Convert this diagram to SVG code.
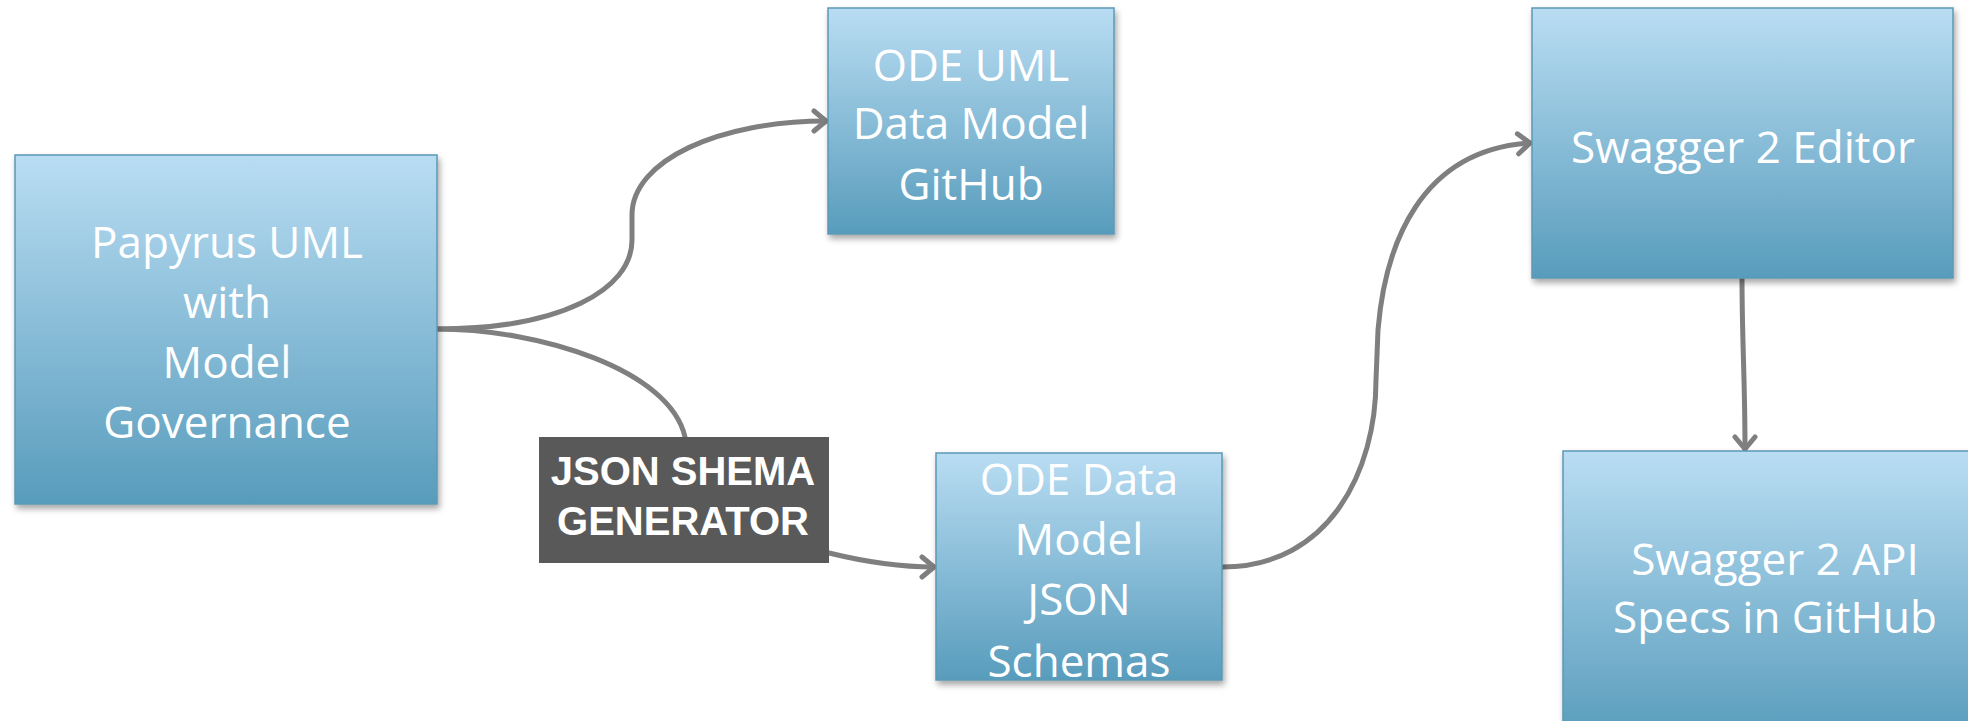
<svg xmlns="http://www.w3.org/2000/svg" width="1968" height="721" viewBox="0 0 1968 721">
  <defs>
    <linearGradient id="boxGrad" x1="0" y1="0" x2="0" y2="1">
      <stop offset="0" stop-color="#b9ddf3"/>
      <stop offset="1" stop-color="#589cbc"/>
    </linearGradient>
    <filter id="shadow" x="-5%" y="-5%" width="115%" height="120%">
      <feDropShadow dx="2" dy="4" stdDeviation="3" flood-color="#000" flood-opacity="0.35"/>
    </filter>
    <marker id="arrow" markerWidth="26" markerHeight="26" refX="17" refY="13" orient="auto" markerUnits="userSpaceOnUse">
      <path d="M5,3 L17,13 L5,23" fill="none" stroke="#7f7f7f" stroke-width="5" stroke-linecap="round" stroke-linejoin="round"/>
    </marker>
  </defs>
  <style>
    .box { fill: url(#boxGrad); stroke: #5b98b7; stroke-width: 1.5; filter: url(#shadow); }
    .lbl { font-family: "Open Sans", "Noto Sans", sans-serif; font-size: 44px; fill: #ffffff; text-anchor: middle; }
    .gen { fill: #595959; }
    .genlbl { font-family: "Liberation Sans", Arial, sans-serif; font-weight: bold; font-size: 40px; fill: #ffffff; text-anchor: middle; }
    .conn { fill: none; stroke: #7f7f7f; stroke-width: 5; stroke-linecap: round; }
  </style>
  <rect width="1968" height="721" fill="#ffffff"/>

  <g id="connectors">
    <path class="conn" d="M437,329 C560,329 632,290 632,240 L632,215 C632,160 720,121 826,121" marker-end="url(#arrow)"/>
    <path class="conn" d="M437,329 C540,329 670,370 685,437"/>
    <path class="conn" d="M829,553 C870,563 900,567 934,567" marker-end="url(#arrow)"/>
    <path class="conn" d="M1222,567 C1330,567 1376,470 1376,380 L1378,330 C1385,245 1420,150 1530,143" marker-end="url(#arrow)"/>
    <path class="conn" d="M1742,278 C1742,340 1745,380 1745,449" marker-end="url(#arrow)"/>
  </g>

  <g id="papyrus">
    <rect class="box" x="15" y="155" width="422" height="349"/>
    <text class="lbl" x="227" y="258">Papyrus UML</text>
    <text class="lbl" x="227" y="318">with</text>
    <text class="lbl" x="227" y="378">Model</text>
    <text class="lbl" x="227" y="438">Governance</text>
  </g>

  <g id="ode-uml">
    <rect class="box" x="828" y="8" width="286" height="226"/>
    <text class="lbl" x="971" y="81">ODE UML</text>
    <text class="lbl" x="971" y="139">Data Model</text>
    <text class="lbl" x="971" y="200">GitHub</text>
  </g>

  <g id="json-generator">
    <rect class="gen" x="539" y="437" width="290" height="126"/>
    <text class="genlbl" x="683" y="485">JSON SHEMA</text>
    <text class="genlbl" x="683" y="535">GENERATOR</text>
  </g>

  <g id="ode-json">
    <rect class="box" x="936" y="453" width="286" height="227"/>
    <text class="lbl" x="1079" y="495">ODE Data</text>
    <text class="lbl" x="1079" y="555">Model</text>
    <text class="lbl" x="1079" y="615">JSON</text>
    <text class="lbl" x="1079" y="677">Schemas</text>
  </g>

  <g id="swagger-editor">
    <rect class="box" x="1532" y="8" width="421" height="270"/>
    <text class="lbl" x="1743" y="163">Swagger 2 Editor</text>
  </g>

  <g id="swagger-specs">
    <rect class="box" x="1563" y="451" width="424" height="290"/>
    <text class="lbl" x="1775" y="575">Swagger 2 API</text>
    <text class="lbl" x="1775" y="633">Specs in GitHub</text>
  </g>
</svg>
